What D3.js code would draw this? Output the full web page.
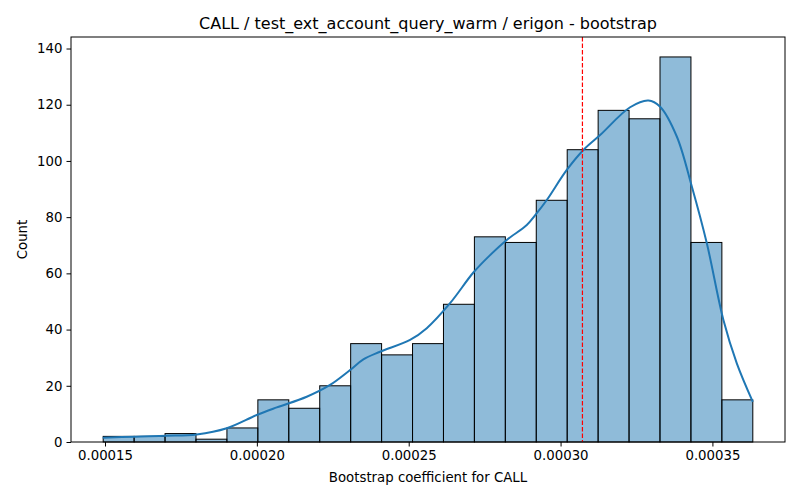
<!DOCTYPE html>
<html>
<head>
<meta charset="utf-8">
<script src="https://cdn.jsdelivr.net/npm/d3@7"></script>
<style>
  body { margin: 0; background: #fff; }
  svg { font-family: "DejaVu Sans", sans-serif; }
</style>
</head>
<body>
<svg id="chart" width="800" height="500"></svg>
<script>
// ---- data ----
const titleText = "CALL / test_ext_account_query_warm / erigon - bootstrap";
const xLabel = "Bootstrap coefficient for CALL";
const yLabel = "Count";
const binLo = 0.0001494;
const binHi = 0.0003633;
const counts = [2, 2, 3, 1, 5, 15, 12, 20, 35, 31, 35, 49, 73, 71, 86, 104, 118, 115, 137, 71, 15];
const kdeX = [0.00014924, 0.00015988, 0.00017032, 0.0001802, 0.00019008, 0.00019996, 0.00020655,
  0.00021642, 0.0002241, 0.00023069, 0.00023507, 0.00024056, 0.00025044, 0.00025594, 0.00026362,
  0.00027129, 0.00027679, 0.00028229, 0.00028888, 0.00029217, 0.00029546, 0.00030205, 0.00030752,
  0.00031302, 0.0003229, 0.00032893, 0.00033278, 0.00033827, 0.00034322, 0.00034816, 0.00035362,
  0.00035803, 0.0003633];
const kdeY = [1.5, 1.9, 2.2, 2.7, 4.9, 9.6, 12.3, 16.1, 20.3, 25.6, 29.4, 32.1, 36.3, 40.5, 49.4,
  60.3, 66.5, 71.9, 77.2, 81.4, 86.1, 96.8, 103.9, 109.2, 119.1, 121.5, 119.3, 108.7, 90.9, 70.7,
  43.4, 28, 14.3];
const refLine = 0.0003072;
const xTicks = [0.00015, 0.00020, 0.00025, 0.00030, 0.00035];
const yTicks = [0, 20, 40, 60, 80, 100, 120, 140];

// ---- layout ----
const svg = d3.select("#chart");
const L = 71, R = 785, T = 37, B = 442;
const x = d3.scaleLinear().domain([0.0001388, 0.0003739]).range([L, R]);
const y = d3.scaleLinear().domain([0, 144.1]).range([B, T]);

const nb = counts.length;
const w = (binHi - binLo) / nb;
const bins = counts.map((c, i) => ({ x0: binLo + i * w, x1: binLo + (i + 1) * w, c }));

svg.append("g").selectAll("rect").data(bins).enter().append("rect")
  .attr("x", d => x(d.x0))
  .attr("width", d => x(d.x1) - x(d.x0))
  .attr("y", d => y(d.c))
  .attr("height", d => y(0) - y(d.c))
  .attr("fill", "#1f77b4").attr("fill-opacity", 0.5)
  .attr("stroke", "#000").attr("stroke-width", 1);

const kde = kdeX.map((v, i) => [v, kdeY[i]]);
svg.append("path").datum(kde)
  .attr("d", d3.line().x(d => x(d[0])).y(d => y(d[1])).curve(d3.curveCatmullRom))
  .attr("fill", "none").attr("stroke", "#1f77b4").attr("stroke-width", 2);

svg.append("line")
  .attr("x1", x(refLine)).attr("x2", x(refLine))
  .attr("y1", T).attr("y2", B)
  .attr("stroke", "red").attr("stroke-width", 1.2).attr("stroke-dasharray", "4.5,2");

// frame
svg.append("rect").attr("x", L).attr("y", T).attr("width", R - L).attr("height", B - T)
  .attr("fill", "none").attr("stroke", "#000").attr("stroke-width", 1);

// axes
const xAxis = d3.axisBottom(x).tickValues(xTicks).tickFormat(d3.format(".5f")).tickSize(4.5).tickPadding(4);
const gx = svg.append("g").attr("transform", `translate(0,${B})`).call(xAxis);
const yAxis = d3.axisLeft(y).tickValues(yTicks).tickSize(4.5).tickPadding(4);
const gy = svg.append("g").attr("transform", `translate(${L},0)`).call(yAxis);
[gx, gy].forEach(g => {
  g.select(".domain").remove();
  g.selectAll("text").attr("font-size", "13.3px").attr("fill", "#000").attr("font-family", "DejaVu Sans");
  g.selectAll("line").attr("stroke", "#000");
});

svg.append("text").attr("x", (L + R) / 2).attr("y", 29).attr("text-anchor", "middle")
  .attr("font-size", "16px").text(titleText);
svg.append("text").attr("x", (L + R) / 2).attr("y", 482).attr("text-anchor", "middle")
  .attr("font-size", "13.3px").text(xLabel);
svg.append("text").attr("transform", `translate(27,${(T + B) / 2}) rotate(-90)`)
  .attr("text-anchor", "middle").attr("font-size", "13.3px").text(yLabel);
</script>
</body>
</html>
